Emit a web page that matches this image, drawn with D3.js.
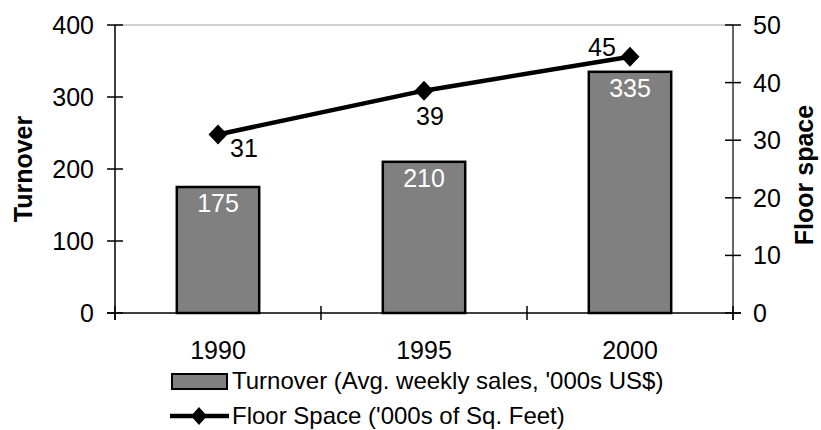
<!DOCTYPE html>
<html>
<head>
<meta charset="utf-8">
<script src="https://cdn.jsdelivr.net/npm/d3@7"></script>
<style>
  html, body { margin: 0; padding: 0; background: #fff; }
  svg { display: block; font-family: "Liberation Sans", Arial, sans-serif; }
</style>
</head>
<body>
<svg id="chart" width="821" height="430"></svg>
<script>
const years = ["1990", "1995", "2000"];
const turnover = [175, 210, 335];
const floorSpace = [31, 38.6, 44.5];
const leftTicks = [0, 100, 200, 300, 400];
const rightTicks = [0, 10, 20, 30, 40, 50];
const turnoverName = "Turnover (Avg. weekly sales, '000s US$)";
const floorName = "Floor Space ('000s of Sq. Feet)";

const W = 821, H = 430;
const m = { left: 115, right: 88, top: 25, bottom: 117 };
const x0 = m.left, x1 = W - m.right, y0 = H - m.bottom, y1 = m.top;

const svg = d3.select("#chart");

const x = d3.scaleBand().domain(years).range([x0, x1]).paddingInner(0.6).paddingOuter(0.3);
const xb = d3.scaleLinear().domain([0, years.length]).range([x0, x1]);
const yL = d3.scaleLinear().domain([0, 400]).range([y0, y1]);
const yR = d3.scaleLinear().domain([0, 50]).range([y0, y1]);
const cx = d => x(d) + x.bandwidth() / 2;

const FS = 25;
const LFS = 24;

// top gridline
svg.append("line")
  .attr("x1", x0).attr("x2", x1).attr("y1", yL(400)).attr("y2", yL(400))
  .attr("stroke", "#c0c0c0").attr("stroke-width", 1.5);

// bars
svg.append("g").selectAll("rect").data(years).join("rect")
  .attr("x", d => x(d)).attr("width", x.bandwidth())
  .attr("y", (d, i) => yL(turnover[i])).attr("height", (d, i) => y0 - yL(turnover[i]))
  .attr("fill", "#808080").attr("stroke", "#000").attr("stroke-width", 2.5);

// bar labels
svg.append("g").selectAll("text").data(years).join("text")
  .attr("x", d => cx(d)).attr("y", (d, i) => yL(turnover[i]) + 25)
  .attr("text-anchor", "middle").attr("fill", "#fff").attr("font-size", FS)
  .text((d, i) => turnover[i]);

// left axis
const gL = svg.append("g");
gL.append("line").attr("x1", x0).attr("x2", x0).attr("y1", y1).attr("y2", y0 + 7)
  .attr("stroke", "#000").attr("stroke-width", 1.5);
gL.selectAll("line.t").data(leftTicks).join("line").attr("class", "t")
  .attr("x1", x0 - 8).attr("x2", x0 + 8).attr("y1", d => yL(d)).attr("y2", d => yL(d))
  .attr("stroke", "#000").attr("stroke-width", 1.5);
gL.selectAll("text").data(leftTicks).join("text")
  .attr("x", x0 - 21).attr("y", d => yL(d)).attr("dy", "0.36em")
  .attr("text-anchor", "end").attr("font-size", FS).attr("fill", "#000")
  .text(d => d);

// right axis
const gR = svg.append("g");
gR.append("line").attr("x1", x1).attr("x2", x1).attr("y1", y1).attr("y2", y0 + 7)
  .attr("stroke", "#333").attr("stroke-width", 1.5);
gR.selectAll("line.t").data(rightTicks).join("line").attr("class", "t")
  .attr("x1", x1 - 8).attr("x2", x1 + 8).attr("y1", d => yR(d)).attr("y2", d => yR(d))
  .attr("stroke", "#000").attr("stroke-width", 1.5);
gR.selectAll("text").data(rightTicks).join("text")
  .attr("x", x1 + 20).attr("y", d => yR(d)).attr("dy", "0.36em")
  .attr("text-anchor", "start").attr("font-size", FS).attr("fill", "#000")
  .text(d => d);

// bottom axis
const gB = svg.append("g");
gB.append("line").attr("x1", x0 - 8).attr("x2", x1 + 8).attr("y1", y0).attr("y2", y0)
  .attr("stroke", "#000").attr("stroke-width", 1.5);
gB.selectAll("line.t").data(d3.range(years.length + 1)).join("line").attr("class", "t")
  .attr("x1", d => xb(d)).attr("x2", d => xb(d)).attr("y1", y0 - 7).attr("y2", y0 + 7)
  .attr("stroke", "#000").attr("stroke-width", 1.5);
gB.selectAll("text").data(years).join("text")
  .attr("x", d => cx(d)).attr("y", 359)
  .attr("text-anchor", "middle").attr("font-size", FS).attr("fill", "#000")
  .text(d => d);

// axis titles
svg.append("text")
  .attr("transform", `translate(32,${(y0 + y1) / 2}) rotate(-90)`)
  .attr("text-anchor", "middle").attr("font-size", 25).attr("font-weight", "bold")
  .text("Turnover");
svg.append("text")
  .attr("transform", `translate(813,${(y0 + y1) / 2 + 6}) rotate(-90)`)
  .attr("text-anchor", "middle").attr("font-size", 25).attr("font-weight", "bold")
  .text("Floor space");

// line series
const line = d3.line().x((d, i) => cx(years[i])).y(d => yR(d));
svg.append("path").datum(floorSpace).attr("d", line)
  .attr("fill", "none").attr("stroke", "#000").attr("stroke-width", 4.5);

const diamond = (sx, sy) => `M0,${-sy}L${sx},0L0,${sy}L${-sx},0Z`;
svg.append("g").selectAll("path").data(floorSpace).join("path")
  .attr("transform", (d, i) => `translate(${cx(years[i])},${yR(d)})`)
  .attr("d", diamond(9.5, 10)).attr("fill", "#000");

// line labels
const lblOff = [[12, 23, "start"], [6, 34, "middle"], [-28, -1, "middle"]];
svg.append("g").selectAll("text").data(floorSpace).join("text")
  .attr("x", (d, i) => cx(years[i]) + lblOff[i][0])
  .attr("y", (d, i) => yR(d) + lblOff[i][1])
  .attr("text-anchor", (d, i) => lblOff[i][2])
  .attr("font-size", FS).attr("fill", "#000")
  .text(d => Math.round(d));

// legend
const lg = svg.append("g");
lg.append("rect").attr("x", 172).attr("y", 374).attr("width", 55).attr("height", 15)
  .attr("fill", "#808080").attr("stroke", "#000").attr("stroke-width", 2);
lg.append("text").attr("x", 232).attr("y", 389).attr("font-size", LFS).text(turnoverName);
lg.append("line").attr("x1", 170).attr("x2", 229).attr("y1", 416).attr("y2", 416)
  .attr("stroke", "#000").attr("stroke-width", 4.5);
lg.append("path").attr("transform", "translate(199,416)").attr("d", diamond(8, 9)).attr("fill", "#000");
lg.append("text").attr("x", 232).attr("y", 424).attr("font-size", LFS).text(floorName);
</script>
</body>
</html>
